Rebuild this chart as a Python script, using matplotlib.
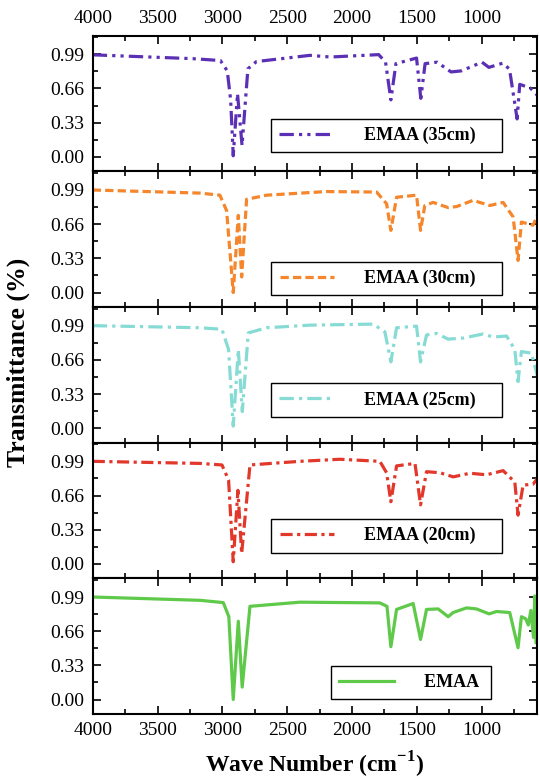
import matplotlib
matplotlib.use('Agg')
import matplotlib.pyplot as plt
from matplotlib.ticker import MultipleLocator
import numpy as np

plt.rcParams['font.family'] = ['Liberation Serif', 'DejaVu Serif']
plt.rcParams['mathtext.fontset'] = 'custom'
plt.rcParams['mathtext.rm'] = 'Liberation Serif'
plt.rcParams['mathtext.bf'] = 'Liberation Serif:bold'

w35 = [4000, 3228, 3015, 2962, 2936, 2916, 2883, 2848, 2803, 2737, 2325, 2166, 1794, 1741,
       1700, 1661, 1502, 1469, 1436, 1343, 1236, 1157, 997, 944, 838, 785, 726, 706, 625, 559]
t35 = [0.985, 0.948, 0.93, 0.83, 0.55, 0.01, 0.61, 0.11, 0.85, 0.92, 0.98, 0.964, 0.987, 0.914,
       0.55, 0.90, 0.954, 0.565, 0.90, 0.914, 0.82, 0.83, 0.914, 0.864, 0.904, 0.848, 0.366, 0.70, 0.665, 0.58]

w30 = [4000, 3173, 3019, 2967, 2916, 2877, 2851, 2813, 2658, 2196, 1810, 1733, 1700, 1656,
       1502, 1471, 1438, 1374, 1258, 1193, 1066, 937, 834, 757, 719, 693, 603, 565]
t30 = [0.99, 0.96, 0.94, 0.79, 0.00, 0.745, 0.15, 0.90, 0.94, 0.975, 0.97, 0.857, 0.60, 0.92,
       0.94, 0.60, 0.84, 0.87, 0.82, 0.83, 0.89, 0.84, 0.87, 0.73, 0.31, 0.68, 0.65, 0.76]

w25 = [4000, 3173, 3003, 2952, 2916, 2877, 2846, 2800, 2658, 2324, 1836, 1746, 1700, 1656,
       1502, 1471, 1425, 1348, 1258, 1142, 988, 911, 808, 744, 719, 693, 616, 565]
t25 = [0.99, 0.97, 0.955, 0.76, 0.02, 0.76, 0.16, 0.92, 0.97, 0.995, 1.005, 0.93, 0.64, 0.97,
       0.985, 0.64, 0.90, 0.915, 0.86, 0.87, 0.91, 0.88, 0.89, 0.76, 0.45, 0.74, 0.725, 0.485]

w20 = [4000, 3173, 3003, 2952, 2916, 2880, 2851, 2787, 2402, 2094, 1785, 1733, 1700, 1656,
       1514, 1471, 1425, 1322, 1219, 1091, 962, 834, 744, 719, 680, 603, 565]
t20 = [0.99, 0.97, 0.955, 0.81, 0.02, 0.71, 0.10, 0.955, 0.99, 1.01, 0.99, 0.88, 0.60, 0.946,
       0.97, 0.57, 0.89, 0.88, 0.84, 0.875, 0.86, 0.90, 0.79, 0.47, 0.76, 0.77, 0.83]

w0 = [4000, 3173, 2993, 2950, 2916, 2877, 2847, 2787, 2402, 1785, 1730, 1700, 1656, 1528,
      1471, 1425, 1335, 1258, 1220, 1116, 1040, 942, 885, 783, 719, 693, 660, 640, 620,
      600, 590, 580]
t0 = [0.99, 0.958, 0.936, 0.80, 0.00, 0.756, 0.12, 0.90, 0.94, 0.933, 0.90, 0.51, 0.87, 0.927,
      0.58, 0.87, 0.875, 0.80, 0.84, 0.885, 0.875, 0.827, 0.85, 0.84, 0.50, 0.80, 0.78, 0.72,
      0.86, 0.60, 1.0, 0.55]

labels = ['EMAA (35cm)', 'EMAA (30cm)', 'EMAA (25cm)', 'EMAA (20cm)', 'EMAA']
colors = ['#5b30b5', '#f5862c', '#86dcd5', '#e2382c', '#5fc94a']
xs = [w35, w30, w25, w20, w0]
ys = [t35, t30, t25, t20, t0]
dash_list = [(4.5, 1.6, 1.0, 1.6, 1.0, 1.6), (2.6, 1.3), (4.5, 1.6, 1.0, 1.6),
             (3.8, 1.4, 1.0, 1.4), None]
leg_pos = [(0.922, 0.14), (0.922, 0.085), (0.922, 0.19), (0.922, 0.19), (0.897, 0.11)]
pad_txt = ['    ', '    ', '    ', '    ', ' ']

fig, axes = plt.subplots(5, 1, figsize=(5.4, 7.79), dpi=100, sharex=True)
fig.subplots_adjust(left=0.1717, right=0.9939, top=0.9542, bottom=0.0834, hspace=0)

for i, ax in enumerate(axes):
    lab = labels[i] + pad_txt[i]
    if dash_list[i] is None:
        ax.plot(xs[i], ys[i], color=colors[i], lw=2.3, label=lab)
    else:
        ax.plot(xs[i], ys[i], color=colors[i], lw=2.3, dashes=dash_list[i], label=lab)
    ax.set_xlim(4000, 575)
    ax.set_ylim(-0.14, 1.17)
    ax.yaxis.set_minor_locator(MultipleLocator(0.165))
    ax.xaxis.set_major_locator(MultipleLocator(500))
    ax.xaxis.set_minor_locator(MultipleLocator(250))
    ax.set_yticks([0.0, 0.33, 0.66, 0.99])
    ax.set_yticklabels(['0.00', '0.33', '0.66', '0.99'])
    ax.tick_params(which='both', direction='in', top=True, right=True, width=1.2, labelsize=14, pad=6)
    ax.tick_params(which='major', length=6)
    ax.tick_params(which='minor', length=3.5)
    for s in ax.spines.values():
        s.set_linewidth(1.5)
    if i == 0:
        ax.tick_params(axis='x', labeltop=True)
    leg = ax.legend(loc='lower right', bbox_to_anchor=leg_pos[i], borderaxespad=0,
                    fancybox=False, edgecolor='black', framealpha=1,
                    prop={'weight': 'bold', 'size': 13}, handlelength=3.0,
                    handletextpad=1.7, borderpad=0.45)
    leg.get_frame().set_linewidth(1.0)

fig.text(0.033, 0.535, 'Transmittance (%)', rotation=90, ha='center', va='center',
         fontsize=18.5, fontweight='bold')
fig.text(0.583, 0.018, r'Wave Number (cm$^{\mathbf{-1}}$)', ha='center', va='center',
         fontsize=17, fontweight='bold')

fig.savefig('out.png', dpi=100)
